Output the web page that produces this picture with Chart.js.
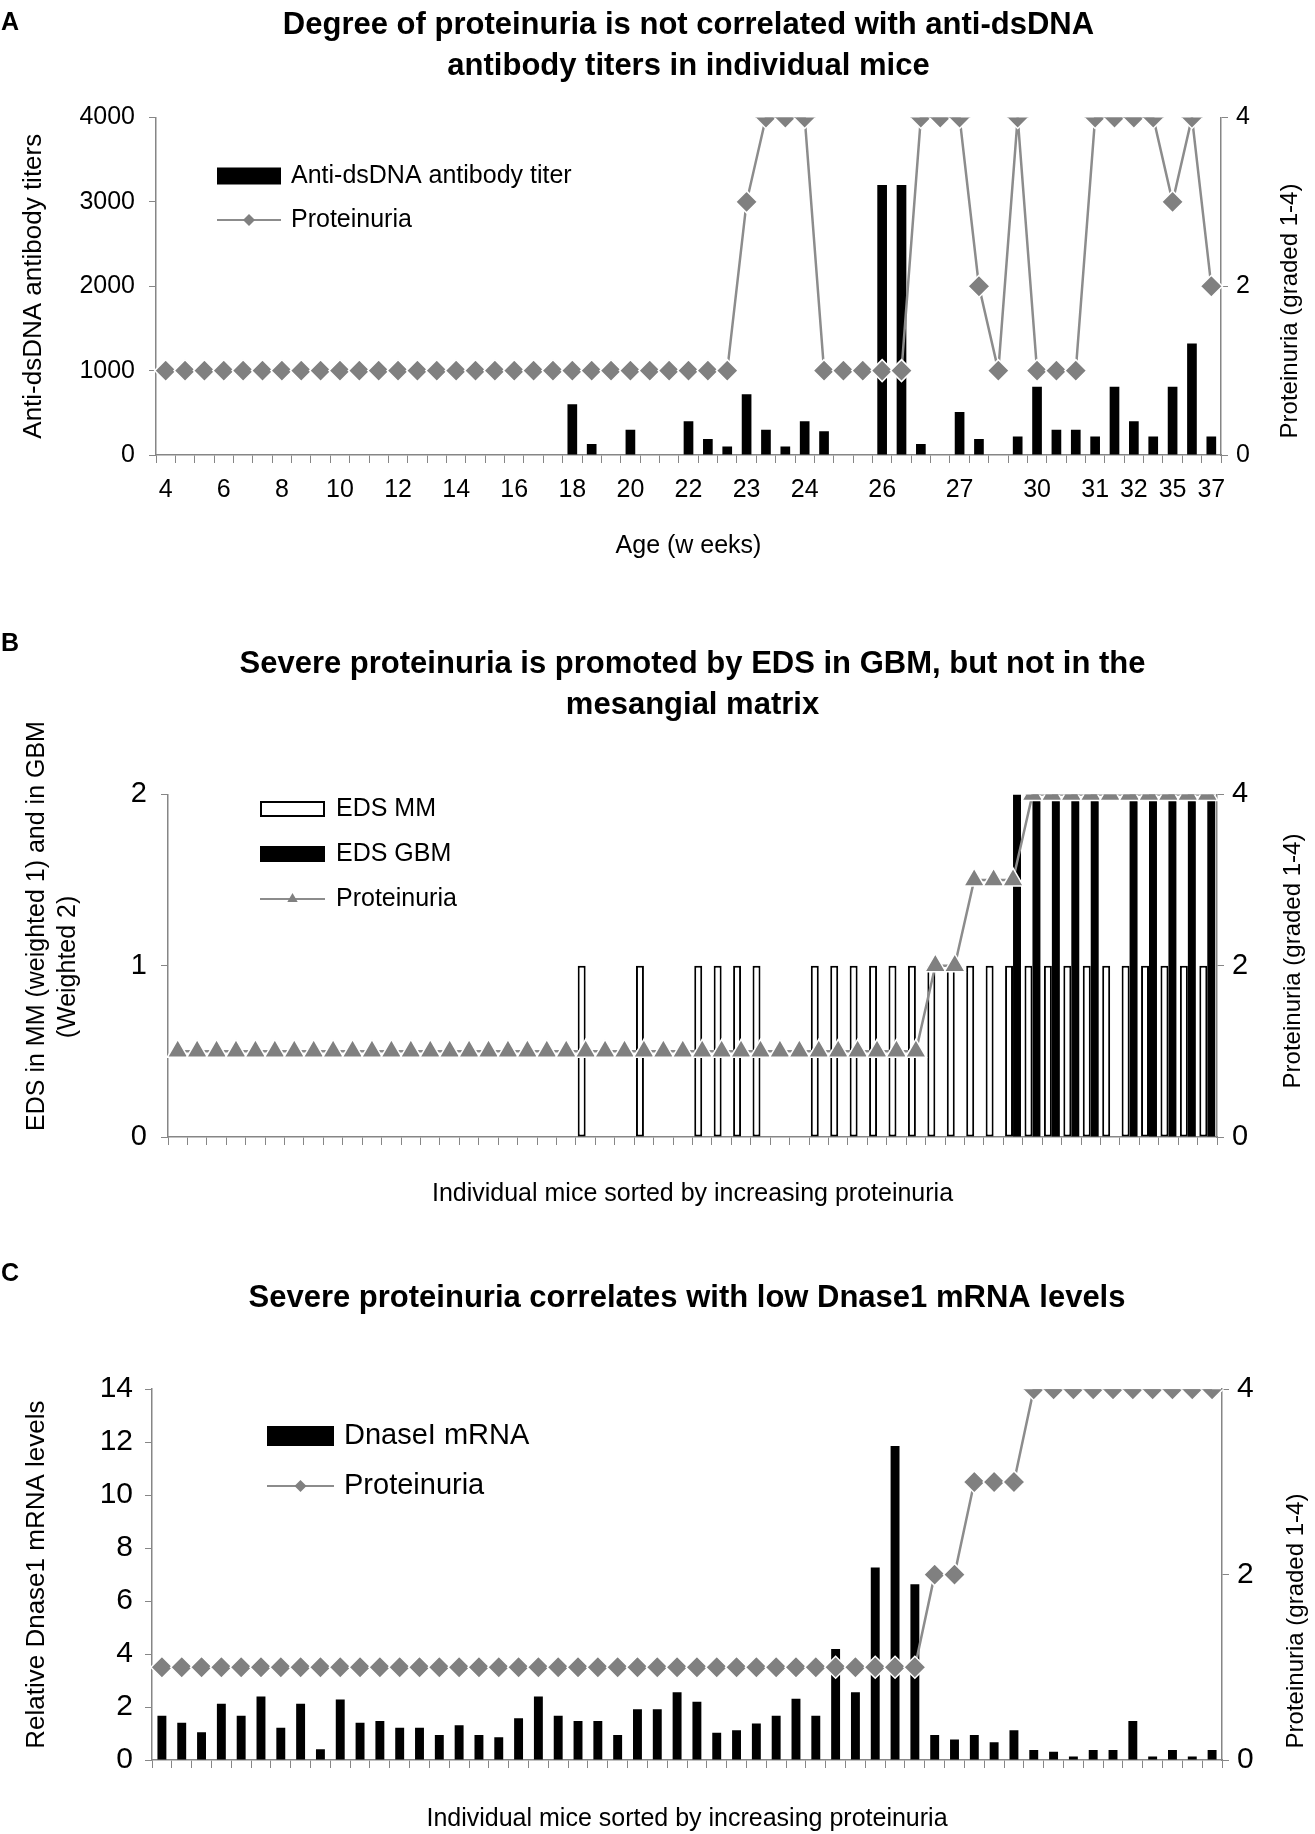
<!DOCTYPE html>
<html>
<head>
<meta charset="utf-8">
<script src="https://cdn.jsdelivr.net/npm/chart.js@4/dist/chart.umd.min.js"></script>
<style>
  body { margin: 0; background: #fff; }
  #page { position: relative; width: 1315px; height: 1834px; }
  .panel { position: absolute; left: 0; width: 1315px; }
  .letter { position: absolute; left: 1px; font: bold 25px 'Liberation Sans', Arial, sans-serif; line-height: 1; }
</style>
</head>
<body>
<div id="page">
  <div class="panel" style="top:0px;height:575px"><canvas id="chartA"></canvas></div>
  <div class="panel" style="top:620px;height:600px"><canvas id="chartB"></canvas></div>
  <div class="panel" style="top:1265px;height:569px"><canvas id="chartC"></canvas></div>
  <div class="letter" style="top:9px">A</div>
  <div class="letter" style="top:630px">B</div>
  <div class="letter" style="top:1260px">C</div>
</div>
<script>
// ---- Panel A: anti-dsDNA titers by age ----
const ageLabels = ['4','','','6','','','8','','','10','','','12','','','14','','','16','','','18','','','20','','',
  '22','','','23','','','24','','','','26','','','','27','','','','30','','','31','','32','','35','','37'];
const titerA = [0,0,0,0,0,0,0,0,0,0,0,0,0,0,0,0,0,0,0,0,0,600,130,0,300,0,0,
  400,190,100,720,300,100,400,280,0,0,3200,3200,130,0,510,190,0,220,810,300,300,220,810,400,220,810,1320,220];
const proteinuriaA = [1,1,1,1,1,1,1,1,1,1,1,1,1,1,1,1,1,1,1,1,1,1,1,1,1,1,1,
  1,1,1,3,4,4,4,1,1,1,1,1,4,4,4,2,1,4,1,1,1,4,4,4,4,3,4,2];

// ---- Panel B: EDS in MM / GBM, mice sorted by proteinuria ----
const miceB = Array(54).fill('');
const edsMM = [0,0,0,0,0,0,0,0,0,0,0,0,0,0,0,0,0,0,0,0,0,1,0,0,1,0,0,1,1,1,1,0,0,
  1,1,1,1,1,1,1,1,1,1,1,1,1,1,1,1,1,1,1,1,1];
const edsGBM = [0,0,0,0,0,0,0,0,0,0,0,0,0,0,0,0,0,0,0,0,0,0,0,0,0,0,0,0,0,0,0,0,0,
  0,0,0,0,0,0,0,0,0,0,2,2,2,2,2,0,2,2,2,2,2];
const proteinuriaB = [1,1,1,1,1,1,1,1,1,1,1,1,1,1,1,1,1,1,1,1,1,1,1,1,1,1,1,1,1,1,1,1,1,
  1,1,1,1,1,1,2,2,3,3,3,4,4,4,4,4,4,4,4,4,4];

// ---- Panel C: Dnase1 mRNA, mice sorted by proteinuria ----
const miceC = Array(54).fill('');
const dnaseMRNA = [1.67,1.41,1.05,2.12,1.67,2.40,1.22,2.12,0.41,2.28,1.41,1.47,1.22,1.22,0.94,1.31,0.94,0.86,
  1.58,2.40,1.67,1.47,1.47,0.94,1.92,1.92,2.56,2.20,1.03,1.12,1.38,1.67,2.31,1.67,4.19,2.56,7.27,11.86,6.64,
  0.94,0.77,0.94,0.67,1.12,0.38,0.31,0.13,0.38,0.38,1.47,0.13,0.38,0.13,0.38];
const proteinuriaC = [1,1,1,1,1,1,1,1,1,1,1,1,1,1,1,1,1,1,1,1,1,1,1,1,1,1,1,1,1,1,1,1,1,
  1,1,1,1,1,1,2,2,3,3,3,4,4,4,4,4,4,4,4,4,4];

const FONT = "'Liberation Sans', Arial, sans-serif";
const AXIS = '#868686';
const LINE = '#8c8c8c';
const MARK = '#808080';

// markers drawn by hand for the legend
function markerPath(ctx, style, x, y, r) {
  ctx.beginPath();
  if (style === 'triangle') {
    ctx.moveTo(x, y - r);
    ctx.lineTo(x + 0.866 * r, y + r / 2);
    ctx.lineTo(x - 0.866 * r, y + r / 2);
  } else {
    ctx.moveTo(x - r, y); ctx.lineTo(x, y - r); ctx.lineTo(x + r, y); ctx.lineTo(x, y + r);
  }
  ctx.closePath();
}

const boxLegend = {
  id: 'boxLegend',
  afterDatasetsDraw(chart, args, o) {
    const ctx = chart.ctx;
    ctx.save();
    ctx.font = o.size + 'px ' + FONT;
    ctx.textBaseline = 'middle';
    chart.data.datasets.forEach((ds, i) => {
      const y = o.y + i * o.gap;
      if (ds.type === 'line') {
        ctx.strokeStyle = ds.borderColor;
        ctx.lineWidth = 2;
        ctx.beginPath(); ctx.moveTo(o.x, y); ctx.lineTo(o.x + o.w, y); ctx.stroke();
        ctx.fillStyle = MARK;
        markerPath(ctx, ds.pointStyle, o.x + o.w / 2, y, 6);
        ctx.fill();
      } else {
        ctx.fillStyle = ds.backgroundColor;
        ctx.fillRect(o.x, y - o.h / 2, o.w, o.h);
        if (ds.borderWidth) {
          ctx.strokeStyle = ds.borderColor; ctx.lineWidth = 2;
          ctx.strokeRect(o.x + 1, y - o.h / 2 + 1, o.w - 2, o.h - 2);
        }
      }
      ctx.fillStyle = '#000';
      ctx.fillText(ds.label, o.x + o.w + o.tgap, y);
    });
    ctx.restore();
  }
};

// rotated axis titles (read bottom to top)
const sideTitle = {
  id: 'sideTitle',
  afterDraw(chart, args, o) {
    const ctx = chart.ctx;
    o.items.forEach(t => {
      ctx.save();
      ctx.translate(t.x, t.y);
      ctx.rotate(-Math.PI / 2);
      ctx.font = t.size + 'px ' + FONT;
      ctx.fillStyle = '#000';
      ctx.textAlign = 'center';
      ctx.textBaseline = 'middle';
      ctx.fillText(t.text, 0, 0);
      ctx.restore();
    });
  }
};

function xAxis(tickSize, tickPad, title, titlePad, height) {
  return {
    type: 'category', offset: true,
    grid: { drawOnChartArea: false, drawTicks: true, tickLength: 8, color: AXIS, offset: true },
    border: { color: AXIS, width: 1.5 },
    ticks: { autoSkip: false, maxRotation: 0, minRotation: 0, color: '#000', padding: tickPad,
             font: { family: FONT, size: tickSize } },
    title: { display: true, text: title, color: '#000', font: { family: FONT, size: 25 },
             padding: { top: 0, bottom: titlePad } },
    afterFit: s => { s.height = height; }
  };
}

function yAxis(pos, max, step, tickSize, width, title, titleSize, titlePad, tickPad) {
  return {
    position: pos, min: 0, max: max,
    grid: { drawOnChartArea: false, tickLength: 7, color: AXIS },
    border: { color: AXIS, width: 1.5 },
    ticks: { stepSize: step, color: '#000', padding: tickPad || 8, font: { family: FONT, size: tickSize },
             callback: v => String(v) },
    title: { display: !!title, text: title, color: '#000', font: { family: FONT, size: titleSize, lineHeight: 1.3 },
             padding: { top: titlePad, bottom: 0 } },
    afterFit: s => { s.width = width; }
  };
}

function lineSet(data, style, r) {
  return {
    type: 'line', label: 'Proteinuria', data: data, yAxisID: 'y2', order: 0,
    borderColor: LINE, borderWidth: 2.5, tension: 0,
    pointStyle: style, pointRadius: r, pointHoverRadius: r,
    pointBackgroundColor: MARK, pointBorderColor: '#fff', pointBorderWidth: 1.5
  };
}

function titleOpts(text, top, bottom) {
  return { display: true, fullSize: false, color: '#000', text: text,
           font: { family: FONT, size: 31, weight: 'bold', lineHeight: 1.33 },
           padding: { top: top, bottom: bottom } };
}

Chart.defaults.font.family = FONT;
Chart.defaults.animation = false;

new Chart(document.getElementById('chartA'), {
  type: 'bar',
  data: {
    labels: ageLabels,
    datasets: [
      { type: 'bar', label: 'Anti-dsDNA antibody titer', data: titerA, yAxisID: 'y', order: 1,
        backgroundColor: '#000', barPercentage: 0.5, categoryPercentage: 1 },
      lineSet(proteinuriaA, 'rectRot', 11)
    ]
  },
  options: {
    responsive: true, maintainAspectRatio: false,
    layout: { padding: 0 },
    scales: {
      x: xAxis(25, 12, 'Age (w eeks)', 14, 120),
      y: yAxis('left', 4000, 1000, 25, 156, 'Anti-dsDNA antibody titers', 26, 17, 14),
      y2: yAxis('right', 4, 2, 25, 94, '', 25, 0)
    },
    plugins: {
      legend: { display: false },
      tooltip: { enabled: false },
      title: titleOpts(['Degree of proteinuria is not correlated with anti-dsDNA', 'antibody titers in individual mice'], 5, 30),
      boxLegend: { x: 217, y: 176, gap: 44, w: 64, h: 17, tgap: 10, size: 25 },
      sideTitle: { items: [{ text: 'Proteinuria (graded 1-4)', x: 1290, y: 311, size: 24 }] }
    }
  },
  plugins: [boxLegend, sideTitle]
});

new Chart(document.getElementById('chartB'), {
  type: 'bar',
  data: {
    labels: miceB,
    datasets: [
      { type: 'bar', label: 'EDS MM', data: edsMM, yAxisID: 'y', order: 1,
        backgroundColor: '#fff', borderColor: '#000', borderWidth: 2, borderSkipped: false,
        barPercentage: 1, categoryPercentage: 0.82 },
      { type: 'bar', label: 'EDS GBM', data: edsGBM, yAxisID: 'y', order: 1,
        backgroundColor: '#000', barPercentage: 1, categoryPercentage: 0.82 },
      lineSet(proteinuriaB, 'triangle', 12)
    ]
  },
  options: {
    responsive: true, maintainAspectRatio: false,
    layout: { padding: 0 },
    scales: {
      x: xAxis(25, 12, 'Individual mice sorted by increasing proteinuria', 11, 83),
      y: yAxis('left', 2, 1, 29, 168, '', 24, 21, 14),
      y2: yAxis('right', 4, 2, 29, 98, '', 25, 0)
    },
    plugins: {
      legend: { display: false },
      tooltip: { enabled: false },
      title: titleOpts(['Severe proteinuria is promoted by EDS in GBM, but not in the', 'mesangial matrix'], 24, 68),
      boxLegend: { x: 260, y: 189, gap: 45, w: 65, h: 16, tgap: 11, size: 25 },
      sideTitle: { items: [
        { text: 'EDS in MM (weighted 1) and in GBM', x: 37, y: 306, size: 25 },
        { text: '(Weighted 2)', x: 68, y: 347, size: 25 },
        { text: 'Proteinuria (graded 1-4)', x: 1293, y: 341, size: 24 }
      ] }
    }
  },
  plugins: [boxLegend, sideTitle]
});

new Chart(document.getElementById('chartC'), {
  type: 'bar',
  data: {
    labels: miceC,
    datasets: [
      { type: 'bar', label: 'DnaseI mRNA', data: dnaseMRNA, yAxisID: 'y', order: 1,
        backgroundColor: '#000', barPercentage: 0.45, categoryPercentage: 1 },
      lineSet(proteinuriaC, 'rectRot', 11)
    ]
  },
  options: {
    responsive: true, maintainAspectRatio: false,
    layout: { padding: 0 },
    scales: {
      x: xAxis(25, 12, 'Individual mice sorted by increasing proteinuria', 0, 74),
      y: yAxis('left', 14, 2, 30, 152, 'Relative Dnase1 mRNA levels', 26, 20, 12),
      y2: yAxis('right', 4, 2, 30, 93, '', 25, 0)
    },
    plugins: {
      legend: { display: false },
      tooltip: { enabled: false },
      title: titleOpts('Severe proteinuria correlates with low Dnase1 mRNA levels', 13, 70),
      boxLegend: { x: 267, y: 171, gap: 50, w: 67, h: 20, tgap: 10, size: 29 },
      sideTitle: { items: [{ text: 'Proteinuria (graded 1-4)', x: 1296, y: 356, size: 24 }] }
    }
  },
  plugins: [boxLegend, sideTitle]
});
</script>
</body>
</html>
